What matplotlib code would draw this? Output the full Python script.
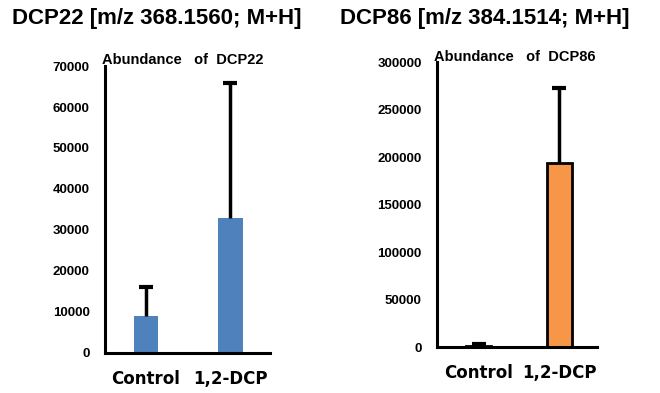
import numpy as np
import matplotlib.pyplot as plt

plt.rcParams['font.family'] = ['Liberation Sans', 'DejaVu Sans']

groups = ['Control', '1,2-DCP']

# DCP22 abundance (mean, upper error)
dcp22_mean = [9000, 33000]
dcp22_err = [7100, 32800]

# DCP86 abundance (mean, upper error)
dcp86_mean = [1500, 194000]
dcp86_err = [1500, 78500]

fig = plt.figure(figsize=(6.6, 3.93), dpi=100)


def draw_panel(rect, means, errs, color, edge, ymax, step, subtitle, xlim, width):
    ax = fig.add_axes(rect)
    x = np.arange(len(means))
    means = np.array(means)
    errs = np.array(errs)
    ax.bar(x, means, width=width, color=color, edgecolor=edge,
           linewidth=2.0 if edge != 'none' else 0, zorder=2)
    # upper-only error bars
    ax.vlines(x, means, means + errs, color='black', linewidth=2.5, zorder=3)
    ax.plot(x, means + errs, linestyle='none', marker='_', markersize=10,
            markeredgewidth=3, color='black', zorder=3)
    ax.set_ylim(0, ymax)
    ax.set_xlim(*xlim)
    ticks = np.arange(0, ymax + 1, step)
    ax.set_yticks(ticks)
    ax.set_yticklabels([str(v) for v in ticks], fontsize=9.5, fontweight='bold')
    ax.set_xticks(x)
    ax.set_xticklabels(groups, fontsize=12, fontweight='bold',
                       family=['DejaVu Sans'])
    ax.tick_params(axis='both', length=0)
    ax.tick_params(axis='y', pad=11)
    ax.tick_params(axis='x', pad=12)
    for s in ['top', 'right']:
        ax.spines[s].set_visible(False)
    for s in ['left', 'bottom']:
        ax.spines[s].set_linewidth(2.2)
    ax.text(-0.02, 0.995, subtitle, transform=ax.transAxes, fontsize=10.5,
            fontweight='bold', ha='left', va='bottom')
    return ax


draw_panel([0.159, 0.102, 0.250, 0.730], dcp22_mean, dcp22_err, '#4F81BD', 'none',
           70000, 10000, 'Abundance   of  DCP22', (-0.485, 1.467), 0.29)
draw_panel([0.662, 0.117, 0.243, 0.725], dcp86_mean, dcp86_err, '#F79646', 'black',
           300000, 50000, 'Abundance   of  DCP86', (-0.516, 1.472), 0.31)

fig.text(0.018, 0.952, 'DCP22 [m/z 368.1560; M+H]', fontsize=16,
         fontweight='bold', ha='left', va='center')
fig.text(0.515, 0.952, 'DCP86 [m/z 384.1514; M+H]', fontsize=16,
         fontweight='bold', ha='left', va='center')

fig.savefig('out.png', dpi=100)
